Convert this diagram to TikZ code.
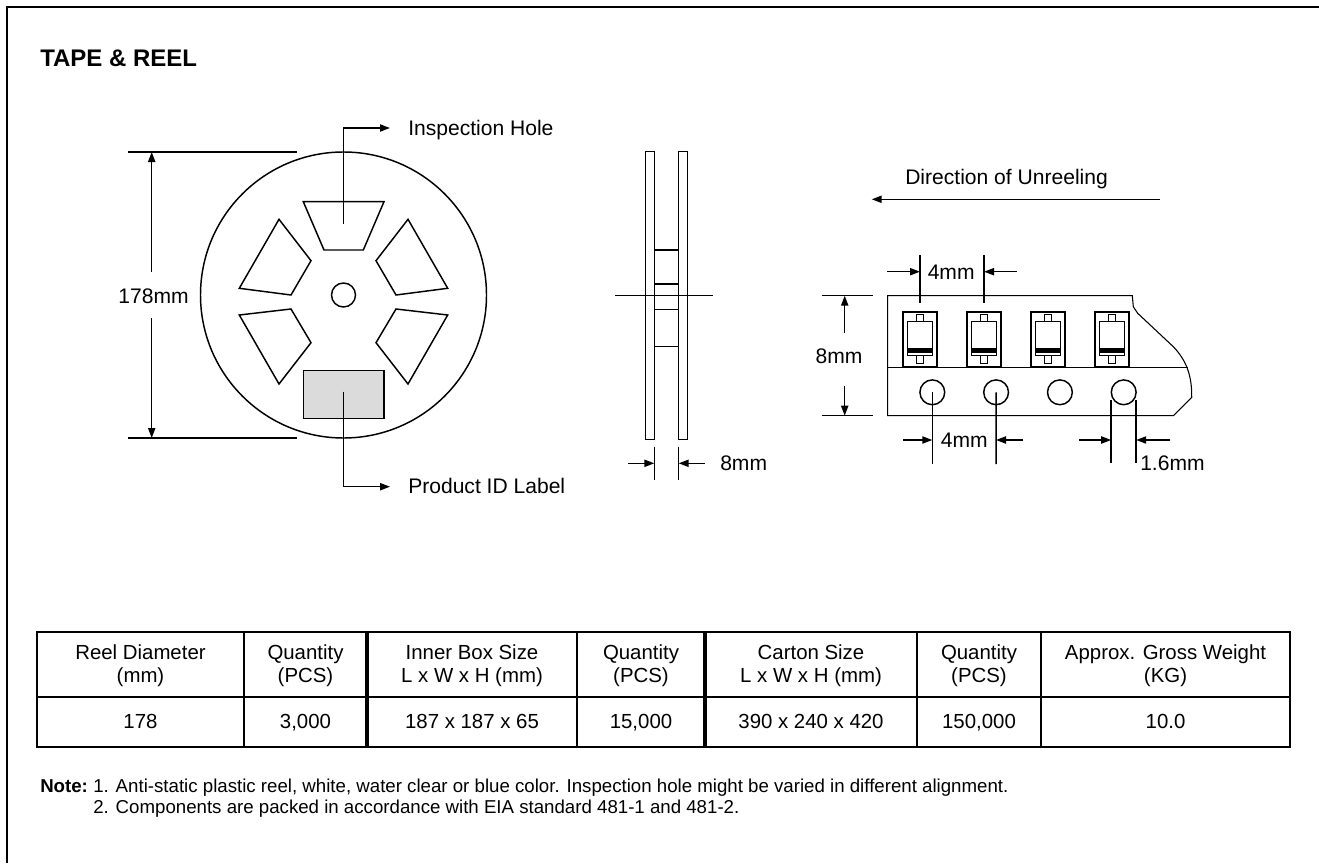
\documentclass[tikz,border=0pt]{standalone}
\usepackage{fontspec}
\setmainfont{Liberation Sans}
\usetikzlibrary{arrows.meta}
\tikzset{
  ln/.style={line width=1.1pt, line join=miter},
  tapeln/.style={line width=0.8pt},
  dimarr/.style={line width=1.1pt, -{Triangle[length=7.5pt,width=5.4pt]}},
  lbl/.style={inner sep=0pt, font=\fontsize{15.8}{18}\selectfont},
  hdr/.style={inner sep=0pt, align=center, font=\fontsize{15.3}{17}\selectfont},
  cell/.style={inner sep=0pt, font=\fontsize{15.3}{17}\selectfont},
  notetxt/.style={inner sep=0pt, anchor=base west, font=\fontsize{14}{15}\selectfont},
  tblln/.style={line width=1.3pt},
  tblthick/.style={line width=2.4pt},
}
\begin{document}
\begin{tikzpicture}[x=0.75pt,y=-0.75pt]
\useasboundingbox (0,0) rectangle (1319,863);
% frame
\draw[line width=1.6pt] (7,863) -- (7,7) -- (1319,7);
\node[anchor=base west, inner sep=0pt, font=\bfseries\fontsize{18}{20}\selectfont] (title) at (40,67) {TAPE \& REEL};

% ---------- reel front view ----------
\coordinate (rc) at (343.5,295);
\draw[ln] (rc) circle[radius=107.25pt];
\draw[ln] (rc) circle[radius=9pt];
\draw[ln] (303.3,201.7) -- (384,201.7) -- (363.3,250) -- (324,250) -- cycle;
\draw[ln] (279,219.3) -- (311,260.7) -- (291,295) -- (239.3,288.3) -- cycle;
\draw[ln] (239.3,315) -- (291,309) -- (311,342.7) -- (279,384) -- cycle;
\draw[ln] (408,219.3) -- (376,260.7) -- (396,295) -- (447.7,288.3) -- cycle;
\draw[ln] (447.7,315) -- (396,309) -- (376,342.7) -- (408,384) -- cycle;
\draw[ln, fill=black!14] (303.3,370.7) rectangle (384,418.3);

% leaders
\coordinate (ihfoot) at (343.3,224);
\coordinate (ihtip) at (390,128);
\draw[dimarr] (ihfoot) |- (ihtip);
\node[lbl, anchor=base west] (ihlbl) at (408,135.5) {Inspection Hole};
\coordinate (idfoot) at (343.3,391.7);
\coordinate (idtip) at (390,486.7);
\draw[dimarr] (idfoot) |- (idtip);
\node[lbl, anchor=base west] (idlbl) at (408,493.5) {Product ID Label};

% 178mm dimension
\draw[ln] (128,152) -- (297,152);
\draw[ln] (128,438) -- (297,438);
\node[lbl, anchor=base] (dia) at (153.5,303.3) {178mm};
\coordinate (diatop) at (151.7,152);
\coordinate (diabot) at (151.7,438);
\draw[dimarr] (151.7,272) -- (diatop);
\draw[dimarr] (151.7,318) -- (diabot);

% ---------- reel side view ----------
\draw[ln] (645.7,151.7) rectangle (654.3,439.3);
\draw[ln] (678.7,151.7) rectangle (687.7,439.3);
\foreach \yy in {250,284,309.3,346.7} \draw[ln] (654.3,\yy) -- (678.7,\yy);
\draw[ln] (615,295.3) -- (712.7,295.3);
\draw[ln] (654.3,446.7) -- (654.3,480);
\draw[ln] (678.7,446.7) -- (678.7,480);
\coordinate (swl) at (654.3,463.3);
\coordinate (swr) at (678.7,463.3);
\draw[dimarr] (628,463.3) -- (swl);
\draw[dimarr] (705,463.3) -- (swr);
\node[lbl, anchor=base west] (sw) at (720,470.7) {8mm};

% ---------- tape ----------
\node[lbl, anchor=base west] (dir) at (905,184) {Direction of Unreeling};
\coordinate (dirtip) at (871.7,199.3);
\draw[dimarr] (1160,199.3) -- (dirtip);

\draw[tapeln] (1132.3,295.7) -- (887.7,295.7) -- (887.7,415.7) -- (1173.3,415.7)
  -- (1191.7,397.3) .. controls (1192,375) and (1186,360) .. (1173.3,346.7)
  -- (1137.7,313.3) -- (1133.3,306.7) -- cycle;
\draw[ln] (887.7,367.3) -- (1187.5,367.3);

\foreach \i in {0,1,2,3} {
  \pgfmathsetmacro{\xo}{903.3+64*\i}
  \draw[line width=1.3pt] (\xo,311.7) rectangle ({\xo+33.4},367.3);
  \draw[line width=1pt] ({\xo+4.4},321.7) rectangle ({\xo+29.4},355.7);
  \fill ({\xo+4.4},348.3) rectangle ({\xo+29.4},352.7);
  \draw[line width=1pt] ({\xo+13.2},314.3) rectangle ({\xo+20.2},321.7);
  \draw[line width=1pt] ({\xo+13.2},355.7) rectangle ({\xo+20.2},363.3);
  \coordinate (hole\i) at ({932.3+63.8*\i},392.3);
  \draw[ln] (hole\i) circle[radius=9.3pt];
}

% top 4mm
\draw[ln] (920,255) -- (920,303.3);
\draw[ln] (984,255) -- (984,303.3);
\coordinate (p1) at (920,271.7);
\coordinate (p2) at (984,271.7);
\draw[dimarr] (887.3,271.7) -- (p1);
\draw[dimarr] (1016.7,271.7) -- (p2);
\node[lbl, anchor=base west] (pitch) at (927.5,279.3) {4mm};

% 8mm tape width
\draw[ln] (822,295.7) -- (873,295.7);
\draw[ln] (822,415.7) -- (873,415.7);
\coordinate (tw1) at (844.7,295.7);
\coordinate (tw2) at (844.7,415.7);
\draw[dimarr] (844.7,333) -- (tw1);
\draw[dimarr] (844.7,386) -- (tw2);
\node[lbl, anchor=base east] (tw) at (862.7,363.3) {8mm};

% bottom 4mm
\draw[ln] (hole0) -- (932.3,464);
\draw[ln] (hole1) -- (996,464);
\coordinate (h1) at (932.3,440);
\coordinate (h2) at (996,440);
\draw[dimarr] (903.3,440) -- (h1);
\draw[dimarr] (1023.3,440) -- (h2);
\node[lbl, anchor=base west] (hpitch) at (940.7,447.3) {4mm};

% 1.6mm
\draw[ln] (1111.2,400) -- (1111.2,463.3);
\draw[ln] (1136.2,400) -- (1136.2,463.3);
\coordinate (d1) at (1111.2,440);
\coordinate (d2) at (1136.2,440);
\draw[dimarr] (1079.3,440) -- (d1);
\draw[dimarr] (1170,440) -- (d2);
\node[lbl, anchor=base west] (hd) at (1140,470.7) {1.6mm};

% ---------- table ----------
\draw[tblln] (37,632.3) rectangle (1290,746.7);
\draw[tblln] (37,697.3) -- (1290,697.3);
\foreach \xx in {244,577,917,1041} \draw[tblln] (\xx,632.3) -- (\xx,746.7);
\foreach \xx in {367,705} \draw[tblthick] (\xx,632.3) -- (\xx,746.7);

\node[hdr] (h1c) at (140.5,666) {Reel Diameter\\(mm)};
\node[hdr] (h2c) at (305.5,666) {Quantity\\(PCS)};
\node[hdr] (h3c) at (472,666) {Inner Box Size\\L x W x H (mm)};
\node[hdr] (h4c) at (641,666) {Quantity\\(PCS)};
\node[hdr] (h5c) at (811,666) {Carton Size\\L x W x H (mm)};
\node[hdr] (h6c) at (979,666) {Quantity\\(PCS)};
\node[hdr] (h7c) at (1165.5,666) {Approx. Gross Weight\\(KG)};

\node[cell, anchor=base] (d1c) at (140.5,728.5) {178};
\node[cell, anchor=base] (d2c) at (305.5,728.5) {3,000};
\node[cell, anchor=base] (d3c) at (472,728.5) {187 x 187 x 65};
\node[cell, anchor=base] (d4c) at (641,728.5) {15,000};
\node[cell, anchor=base] (d5c) at (811,728.5) {390 x 240 x 420};
\node[cell, anchor=base] (d6c) at (979,728.5) {150,000};
\node[cell, anchor=base] (d7c) at (1165.5,728.5) {10.0};

% ---------- notes ----------
\node[notetxt, font=\bfseries\fontsize{14}{15}\selectfont] (note) at (40,792) {Note:};
\node[notetxt] (n1) at (93,792) {1. Anti-static plastic reel, white, water clear or blue color. Inspection hole might be varied in different alignment.};
\node[notetxt] (n2) at (93,813) {2. Components are packed in accordance with EIA standard 481-1 and 481-2.};
\end{tikzpicture}
\end{document}
